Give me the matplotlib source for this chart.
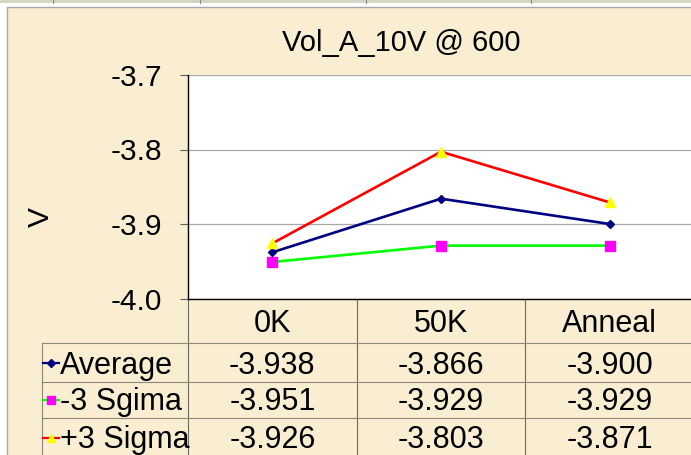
import matplotlib
matplotlib.use("Agg")
import matplotlib.pyplot as plt
from matplotlib.patches import Rectangle
from matplotlib.lines import Line2D
from matplotlib.transforms import blended_transform_factory

plt.rcParams['font.family'] = ['Liberation Sans', 'DejaVu Sans']

title = "Vol_A_10V @ 600"
categories = ["0K", "50K", "Anneal"]
series_names = ["Average", "-3 Sgima", "+3 Sigma"]
average = [-3.938, -3.866, -3.900]
minus3 = [-3.951, -3.929, -3.929]
plus3 = [-3.926, -3.803, -3.871]
yticks = [-4.0, -3.9, -3.8, -3.7]
ylabel = "V"

W, H = 691, 455
fig = plt.figure(figsize=(W / 100, H / 100), dpi=100)
fig.patch.set_facecolor('white')

bg = fig.add_axes([0, 0, 1, 1], zorder=0)
bg.set_xlim(0, W)
bg.set_ylim(H, 0)
bg.axis('off')

# spreadsheet strip at top
bg.add_patch(Rectangle((0, 0), W, 3, facecolor='#D8D4C4', edgecolor='none'))
for xv in [53, 200, 366, 531]:
    bg.add_line(Line2D([xv, xv], [0, 3], color='#8A8A8A', lw=0.8))
# chart area
bg.add_patch(Rectangle((7, 7), W + 10, H + 10, facecolor='#F9EED2',
                       edgecolor='#A8A8A8', lw=1.0))

ax = fig.add_axes([188 / W, 1 - 298.5 / H, (694 - 188) / W, (298.5 - 75) / H], zorder=2)
ax.set_facecolor('white')
x = list(range(len(categories)))
styles = [
    dict(color='#000080', marker='D', markersize=4, mfc='#000080', mec='#000080'),
    dict(color='#00FF00', marker='s', markersize=6.5, mfc='#FF00FF', mec='#FF00FF'),
    dict(color='#FF0000', marker='^', markersize=7, mfc='#FFFF00', mec='#FFFF00'),
]
data = [average, minus3, plus3]
for vals, st in zip(data, styles):
    ax.plot(x, vals, lw=1.9, clip_on=False, zorder=3, **st)

ax.set_xlim(-0.5, len(categories) - 0.5)
ax.set_ylim(min(yticks), max(yticks))
ax.set_yticks(yticks)
ax.set_yticklabels([f"{v:.1f}" for v in yticks])
ax.set_xticks([])
ax.yaxis.grid(True, color='#A8A8A8', lw=0.9)
ax.set_axisbelow(True)
ax.tick_params(axis='y', length=6, width=0.8, color='#606060', pad=12.5, labelsize=21.5)
for s in ['top', 'right']:
    ax.spines[s].set_visible(False)
ax.spines['left'].set_color('black')
ax.spines['bottom'].set_color('black')
ax.spines['left'].set_linewidth(1.0)
ax.spines['bottom'].set_linewidth(1.0)

fig.text(401 / W, 1 - 51 / H, title, ha='center', va='baseline', fontsize=21)
fig.text(41 / W, 1 - 217 / H, ylabel, ha='center', va='center', rotation=90, fontsize=21.5)

# data table
tr = blended_transform_factory(ax.transData, bg.transData)
line_col = '#8C8678'
for b in [i - 0.5 for i in range(len(categories) + 1)]:
    bg.add_line(Line2D([b, b], [299, H], color='#6E6A60', lw=0.8, transform=tr))
for yv in [343, 382, 418]:
    bg.add_line(Line2D([42, W], [yv, yv], color=line_col, lw=0.8))
bg.add_line(Line2D([42, 42], [343, H], color=line_col, lw=0.8))

header_base = 332
row_base = [374, 410, 448]
row_mid = [363, 400, 438]
for i, c in enumerate(categories):
    bg.text(i, header_base, c, transform=tr, ha='center', va='baseline', fontsize=22)
for r, (name, vals, st) in enumerate(zip(series_names, data, styles)):
    bg.text(60, row_base[r], name, ha='left', va='baseline', fontsize=22)
    bg.add_line(Line2D([43, 59], [row_mid[r], row_mid[r]], color=st['color'], lw=1.6))
    bg.add_line(Line2D([51], [row_mid[r]], marker=st['marker'],
                       markersize=st['markersize'] * 0.9, mfc=st['mfc'], mec=st['mec'], lw=0))
    for i, v in enumerate(vals):
        bg.text(i, row_base[r], f"{v:.3f}", transform=tr, ha='center', va='baseline', fontsize=22)

fig.savefig("out.png", dpi=100)
